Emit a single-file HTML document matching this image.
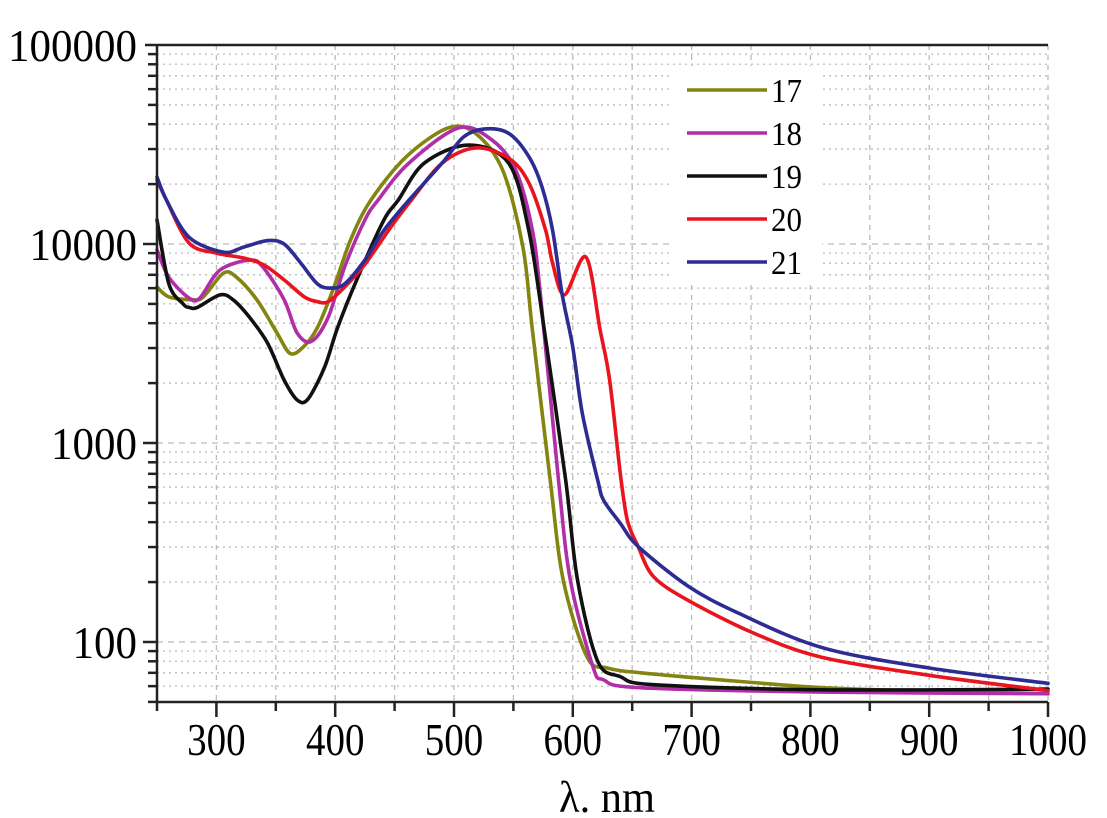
<!DOCTYPE html>
<html><head><meta charset="utf-8"><style>
html,body{margin:0;padding:0;background:#fff;}
svg{display:block;font-family:"Liberation Serif",serif;}
</style></head><body>
<svg id="chart" width="1107" height="818" viewBox="0 0 1107 818" xmlns="http://www.w3.org/2000/svg">
<g id="grid"></g>
<rect x="670" y="66" width="152" height="218" fill="#fff"/>
<g id="series"></g>
<g id="axes"></g>
<g id="legend"></g>
<text x="607" y="812" font-size="44" text-anchor="middle" textLength="96" lengthAdjust="spacingAndGlyphs">λ. nm</text>
</svg>
<script>
const xTicks = [300,400,500,600,700,800,900,1000];
const yTicks = [100,1000,10000,100000];
const yTickLabels = ["100","1000","10000","100000"];
const seriesNames = ["17","18","19","20","21"];
const seriesColors = ["#848410","#b02fa8","#111111","#e8141e","#2c2c92"];

const wl17 = [250,260,280,289,306,317,334,351,362,373,385,399,413,430,460,495,518,541,558,566,581,592,612,629,657,725,809,880,1000];
const v17  = [6080,5420,5250,5420,7150,6800,5250,3570,2820,3030,3800,6080,10500,16600,27500,38300,36000,23500,9650,3700,650,204,84,74,70,64.5,59,57,55];
const wl18 = [250,260,277,286,303,328,339,357,368,380,394,408,425,436,462,504,532,552,566,573,588,598,617,626,655,809,1000];
const v18  = [9350,6800,5350,5350,7400,8300,7680,5250,3570,3240,4270,7680,13200,16600,25500,38300,33300,23500,11700,5380,650,204,75,64.5,59,56,55];
const wl19 = [250,260,272,277,284,303,314,328,343,357,368,377,391,402,419,441,453,475,512,546,563,576,594,604,621,640,668,809,1000];
const v19  = [13200,6300,5000,4800,4800,5550,5250,4270,3180,2070,1645,1660,2400,3800,6800,13200,16600,25500,31400,25500,11700,3700,650,204,80,67,61,57.5,58];
const wl20 = [250,258,277,300,323,340,357,374,385,394,408,425,447,464,490,518,546,563,577,583,593,611,623,631,640,646,655,668,697,752,809,900,1000];
const v20  = [21000,16600,10100,9000,8500,7850,6600,5420,5130,5130,6080,7900,12200,16600,25500,30400,27000,20300,11800,8000,5550,8600,3700,2075,700,408,302,213,162,111,84,68,57];
const wl21 = [250,258,277,306,323,343,357,371,385,396,408,425,441,462,490,508,526,546,563,574,583,591,600,608,621,626,640,655,697,739,809,900,1000];
const v21  = [21700,16600,10800,9100,9650,10400,10000,8030,6300,6000,6300,8300,11700,16600,25500,34500,37900,36000,27500,19400,11700,5600,3030,1410,650,515,395,302,191,140,94,74,62];

const wls=[wl17,wl18,wl19,wl20,wl21], vals=[v17,v18,v19,v20,v21];

const X0=157,X1=1048,Y_TOP=45,Y_BOT=702,DEC=199;
function xs(nm){return X0+(nm-250)*(X1-X0)/750;}
function ys(v){return Y_TOP+(5-Math.log10(v))*DEC;}
const NS="http://www.w3.org/2000/svg";
function mk(tag,attrs,parent){const e=document.createElementNS(NS,tag);for(const k in attrs)e.setAttribute(k,attrs[k]);parent.appendChild(e);return e;}
function smoothPath(P){
  let d='M'+P[0][0].toFixed(1)+','+P[0][1].toFixed(1);
  for(let i=0;i<P.length-1;i++){
    const p0=P[Math.max(0,i-1)],p1=P[i],p2=P[i+1],p3=P[Math.min(P.length-1,i+2)];
    const t=0.16;
    let c1x=p1[0]+(p2[0]-p0[0])*t,c1y=p1[1]+(p2[1]-p0[1])*t;
    let c2x=p2[0]-(p3[0]-p1[0])*t,c2y=p2[1]-(p3[1]-p1[1])*t;
    c1x=Math.min(Math.max(c1x,p1[0]),p2[0]);c2x=Math.min(Math.max(c2x,p1[0]),p2[0]);
    d+=' C'+c1x.toFixed(1)+','+c1y.toFixed(1)+' '+c2x.toFixed(1)+','+c2y.toFixed(1)+' '+p2[0].toFixed(1)+','+p2[1].toFixed(1);
  }
  return d;
}

const grid=document.getElementById('grid');
for(let nm=300;nm<=1000;nm+=50){
  const l=mk('line',{x1:xs(nm),x2:xs(nm),y1:Y_TOP,y2:Y_BOT,stroke:'#bbbbbb','stroke-width':1.3,'stroke-dasharray':'5,5'},grid);
  
  
}
for(let d=1;d<=4;d++){
  for(let m=1;m<=9;m++){
    const v=m*Math.pow(10,d);
    if(v<50||v>100000)continue;
    const y=ys(v);
    const l=mk('line',{x1:X0,x2:X1,y1:y,y2:y,stroke:'#bbbbbb','stroke-width':1.3,'stroke-dasharray':m===1?'6,5':'2,4'},grid);
    
    
  }
}

const sg=document.getElementById('series');
for(let i=0;i<5;i++){
  const P=wls[i].map((w,k)=>[xs(w),ys(vals[i][k])]);
  const p=mk('path',{d:smoothPath(P),fill:'none',stroke:seriesColors[i],'stroke-width':3.6,'stroke-linejoin':'round','stroke-linecap':'round'},sg);
  
  
}

const ax=document.getElementById('axes');
const a1=mk('path',{d:`M${X0},${Y_TOP} L${X0},${Y_BOT} L${X1},${Y_BOT} M${X0-12},${Y_TOP} L${X1},${Y_TOP}`,fill:'none',stroke:'#222','stroke-width':2.5},ax);


for(let d=1;d<=4;d++){for(let m=1;m<=9;m++){
  const v=m*Math.pow(10,d); if(v<50||v>100000)continue;
  const y=ys(v);
  const t=mk('line',{x1:X0-(m===1?14:9),x2:X0,y1:y,y2:y,stroke:'#222','stroke-width':2.5},ax);
  
  
}}
yTicks.forEach((v,i)=>{
  const s=yTickLabels[i];
  const t=mk('text',{x:137,y:ys(v)+16,'font-size':46,'text-anchor':'end',textLength:s.length*21.5,lengthAdjust:'spacingAndGlyphs'},ax);
  t.textContent=s;
  
  
});
for(let nm=250;nm<=1000;nm+=50){
  const major=(nm%100===0);
  const t=mk('line',{x1:xs(nm),x2:xs(nm),y1:Y_BOT,y2:Y_BOT+(major?15:9),stroke:'#222','stroke-width':2.5},ax);
  
  
}
xTicks.forEach(nm=>{
  const s=String(nm);
  const t=mk('text',{x:xs(nm),y:755,'font-size':46,'text-anchor':'middle',textLength:s.length*19.5,lengthAdjust:'spacingAndGlyphs'},ax);
  t.textContent=s;
  
  
});

const lg=document.getElementById('legend');
seriesNames.forEach((n,i)=>{
  const y=90+i*43;
  const g=mk('g',{},lg);
  
  
  mk('line',{x1:687,x2:767,y1:y,y2:y,stroke:seriesColors[i],'stroke-width':3.5},g);
  const t=mk('text',{x:771,y:y+12,'font-size':34,textLength:31,lengthAdjust:'spacingAndGlyphs'},g);
  t.textContent=n;
});
</script>
</body></html>
